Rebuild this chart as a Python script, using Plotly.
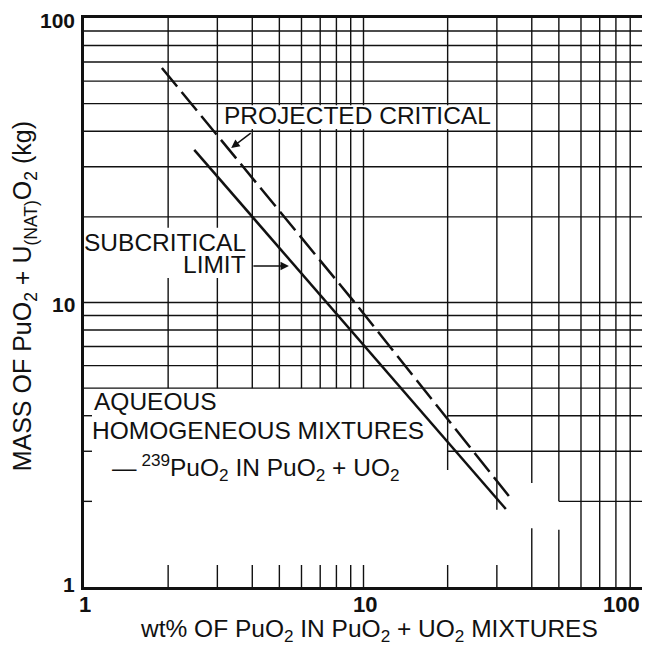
import math
import plotly.graph_objects as go

# ---------------- data ----------------
subcrit_x = [2.48, 7.4, 32.3]          # wt% PuO2
subcrit_y = [34.4, 10.0, 1.88]         # kg  (subcritical limit, solid)
proj_x = [1.90, 9.3, 33.6]             # wt% PuO2
proj_y = [66.7, 10.0, 2.05]            # kg  (projected critical, dashed)

x_tick_vals = [1, 10, 100]
x_tick_text = ["1", "10", "100"]
y_tick_vals = [1, 10, 100]
y_tick_text = ["1", "10", "100"]

minor_steps = [2, 3, 4, 5, 6, 7, 8, 9]
low_decade = minor_steps + [10]
high_decade = [20, 30, 40, 50, 60, 70, 80, 90]

# grid segments of the drawing (value, from, to); the sheet has blank areas
v_segments = ([(x, 5, 100) for x in low_decade] +
              [(20, 2.58, 100), (30, 1.87, 100), (40, 2.32, 100), (40, 1, 1.61),
               (50, 2.0, 100), (50, 1, 1.59)] +
              [(x, 1, 100) for x in [60, 70, 80, 90]])
h_segments = ([(y, 1, 100) for y in [5, 6, 7, 8, 9] + [10] + high_decade] +
              [(4, 20, 100), (3, 20, 100), (2, 50, 100)])
bottom_stub_x = low_decade + [20, 30]
left_stub_y = [2, 3, 4]

# white areas behind the labels (data coordinates)
label_masks = [(3.05, 29.5, 40.7, 49.4),   # PROJECTED CRITICAL
               (1.0, 3.95, 12.2, 18.3)]    # SUBCRITICAL LIMIT

INK = "#111111"
FONT = "Liberation Sans, Arial, Helvetica, sans-serif"
NARROW = "Liberation Sans Narrow, Arial Narrow, Liberation Sans, sans-serif"

# plot area in reference-image pixels
L, R, T, B = 84, 646, 18, 587
WIN_W, WIN_H = 650, 646
PAGE_OFFSET = 8          # default body margin of the html page
W, H = WIN_W - PAGE_OFFSET, WIN_H - PAGE_OFFSET


def px_x(px):
    return (px - L) / (R - L)


def px_y(py):
    return (B - py) / (B - T)


shapes = []
gw = 1.4
for x, y0, y1 in v_segments:
    shapes.append(dict(type="line", xref="x", yref="y", x0=x, x1=x, y0=y0, y1=y1,
                       line=dict(color=INK, width=gw), layer="below"))
for y, x0, x1 in h_segments:
    shapes.append(dict(type="line", xref="x", yref="y", x0=x0, x1=x1, y0=y, y1=y,
                       line=dict(color=INK, width=gw), layer="below"))
for x0, x1, y0, y1 in label_masks:
    shapes.append(dict(type="rect", xref="x", yref="y", x0=x0, x1=x1, y0=y0, y1=y1,
                       fillcolor="white", line=dict(width=0), layer="below"))
for x in bottom_stub_x:
    shapes.append(dict(type="line", xref="x", yref="y", x0=x, x1=x, y0=1, y1=1.195,
                       line=dict(color=INK, width=gw), layer="below"))
for y in left_stub_y:
    shapes.append(dict(type="line", xref="x", yref="y", x0=1, x1=1.068, y0=y, y1=y,
                       line=dict(color=INK, width=gw), layer="below"))

fig = go.Figure()
fig.add_trace(go.Scatter(x=subcrit_x, y=subcrit_y, mode="lines",
                         line=dict(color=INK, width=2.5), name="Subcritical limit",
                         hoverinfo="skip"))
fig.add_trace(go.Scatter(x=proj_x, y=proj_y, mode="lines",
                         line=dict(color=INK, width=2.5, dash="24px,7px"),
                         name="Projected critical", hoverinfo="skip"))

ann = []
# tick labels
for v, t in zip(x_tick_vals, x_tick_text):
    last = v == x_tick_vals[-1]
    ann.append(dict(x=math.log10(v), xref="x", y=px_y(604), yref="paper",
                    text=t, showarrow=False, xanchor="right" if last else "center",
                    xshift=-2 if last else 1, yanchor="middle", height=18,
                    borderpad=0,
                    font=dict(family=NARROW, size=22, color=INK, weight="bold")))
yshifts = {1: 3, 10: -2, 100: -2}
for v, t in zip(y_tick_vals, y_tick_text):
    ann.append(dict(x=px_x(77), xref="paper", y=math.log10(v), yref="y",
                    text=t, showarrow=False, xanchor="right", yanchor="middle",
                    yshift=yshifts[v],
                    font=dict(family=FONT, size=21, color=INK, weight="bold")))
# axis titles
ann.append(dict(x=px_x(371), xref="paper", y=px_y(630), yref="paper",
                text="wt% OF PuO<sub>2</sub> IN PuO<sub>2</sub> + UO<sub>2</sub> MIXTURES",
                showarrow=False, xanchor="center", yanchor="middle", borderpad=0,
                font=dict(family=FONT, size=24.5, color=INK)))
ann.append(dict(x=px_x(24), xref="paper", y=px_y(296), yref="paper",
                text="MASS OF PuO<sub>2</sub> + U<sub>(NAT)</sub>O<sub>2</sub> (kg)",
                textangle=-90, showarrow=False, xanchor="center", yanchor="middle",
                font=dict(family=FONT, size=25, color=INK)))
# curve labels
lab_font = dict(family=FONT, size=24.5, color=INK)
ann.append(dict(x=px_x(359), xref="paper", y=px_y(116), yref="paper",
                text="PROJECTED CRITICAL", showarrow=False, xanchor="center",
                yanchor="middle", borderpad=0, font=lab_font))
ann.append(dict(x=px_x(248), xref="paper", y=px_y(242), yref="paper",
                text="SUBCRITICAL", showarrow=False, xanchor="right",
                yanchor="middle", borderpad=0, height=21, font=lab_font))
ann.append(dict(x=px_x(248), xref="paper", y=px_y(264.5), yref="paper",
                text="LIMIT", showarrow=False, xanchor="right",
                yanchor="middle", borderpad=0, height=21, font=lab_font))
ann.append(dict(x=px_x(93), xref="paper", y=px_y(401.5), yref="paper",
                text="AQUEOUS", showarrow=False, xanchor="left",
                yanchor="middle", borderpad=0, font=lab_font))
ann.append(dict(x=px_x(91), xref="paper", y=px_y(430.5), yref="paper",
                text="HOMOGENEOUS MIXTURES", showarrow=False, xanchor="left",
                yanchor="middle", borderpad=0, font=lab_font))
ann.append(dict(x=px_x(111), xref="paper", y=px_y(467), yref="paper",
                text="\u2014\u2009<sup>239</sup>PuO<sub>2</sub> IN PuO<sub>2</sub> + UO<sub>2</sub>",
                showarrow=False, xanchor="left",
                yanchor="middle", borderpad=0, font=lab_font))
# pointer arrows
ann.append(dict(x=px_x(232), xref="paper", y=px_y(148), yref="paper", text="",
                showarrow=True, ax=21, ay=-16, arrowhead=2, arrowsize=1.2,
                arrowwidth=1.4, arrowcolor=INK))
ann.append(dict(x=px_x(290), xref="paper", y=px_y(266), yref="paper", text="",
                showarrow=True, ax=-37, ay=0, arrowhead=2, arrowsize=1.2,
                arrowwidth=1.4, arrowcolor=INK))

axis_common = dict(type="log", range=[0, 2], showgrid=False, zeroline=False,
                   showline=True, mirror=True, linecolor=INK, linewidth=2.5,
                   ticks="", showticklabels=False, fixedrange=True)

fig.update_layout(
    width=W, height=H,
    margin=dict(l=L - PAGE_OFFSET, r=WIN_W - R, t=T - PAGE_OFFSET, b=WIN_H - B),
    plot_bgcolor="white", paper_bgcolor="white",
    showlegend=False,
    xaxis=axis_common, yaxis=axis_common,
    shapes=shapes, annotations=ann,
)

fig.write_html("out.html")
